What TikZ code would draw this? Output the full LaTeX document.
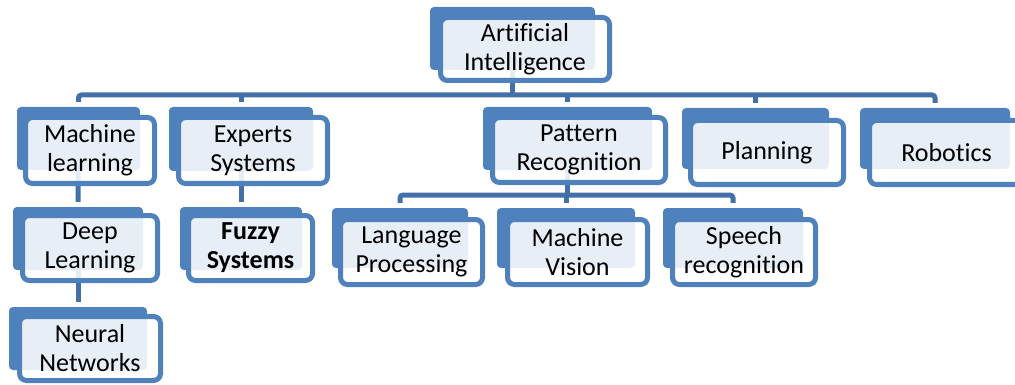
\documentclass[tikz,border=0pt]{standalone}
\usepackage{fontspec}
\setmainfont{Carlito}[Ligatures=NoCommon]
\usetikzlibrary{fit,backgrounds}

\definecolor{boxblue}{RGB}{79,129,189}
\definecolor{linkblue}{RGB}{68,112,170}

\tikzset{
  backbox/.style={fill=boxblue, rounded corners=4pt, inner sep=0pt},
  frontbox/.style={draw=boxblue, line width=5pt, fill=white, fill opacity=0.87,
    text opacity=1, rounded corners=7pt, inner sep=0pt, align=center,
    font=\fontsize{26}{29}\selectfont},
  conn/.style={draw=linkblue, line width=5pt, rounded corners=3pt}
}

\begin{document}
\begin{tikzpicture}[x=1pt, y=-1pt]
                \clip (0,0) rectangle (1015,385);

                % top
                \node[backbox, fit={(430,7) (595,70)}] (ai-b) {};
                \node[frontbox, minimum width=169, minimum height=63] (ai) at (525,49) {Artificial\\Intelligence};

                % first row
                \node[backbox, fit={(17,107) (140,170)}] (ml-b) {};
                \node[frontbox, minimum width=129, minimum height=66] (ml) at (90,150.5) {Machine\\learning};
                \node[backbox, fit={(169,107) (313,171)}] (es-b) {};
                \node[frontbox, minimum width=149, minimum height=66] (es) at (253,150.5) {Experts\\Systems};
                \node[backbox, fit={(483,107) (652,170)}] (pr-b) {};
                \node[frontbox, minimum width=173, minimum height=65] (pr) at (579,150) {Pattern\\Recognition};
                \node[backbox, fit={(682,108) (829,169)}] (pl-b) {};
                \node[frontbox, minimum width=153, minimum height=64] (pl) at (767,152.5) {Planning};
                \node[backbox, fit={(860,108) (1010,169)}] (rb-b) {};
                \node[frontbox, minimum width=154, minimum height=64] (rb) at (946.5,152.5) {Robotics};

                % second row
                \node[backbox, fit={(13,207) (143,270)}] (dl-b) {};
                \node[frontbox, minimum width=135, minimum height=65] (dl) at (90,248) {Deep\\Learning};
                \node[backbox, fit={(180,207) (302,270)}] (fz-b) {};
                \node[frontbox, minimum width=124, minimum height=65] (fz) at (250.5,248) {\bfseries Fuzzy\\\bfseries Systems};
                \node[backbox, fit={(332,208) (468,268)}] (lp-b) {};
                \node[frontbox, minimum width=142, minimum height=65] (lp) at (411.5,252) {Language\\Processing};
                \node[backbox, fit={(497,208) (635,268)}] (mv-b) {};
                \node[frontbox, minimum width=140, minimum height=65] (mv) at (577.5,252) {Machine\\Vision};
                \node[backbox, fit={(663,208) (803,268)}] (sr-b) {};
                \node[frontbox, minimum width=143, minimum height=65] (sr) at (744,252) {Speech\\recognition};

                % third row
                \node[backbox, fit={(9,307) (147,370)}] (nn-b) {};
                \node[frontbox, minimum width=141, minimum height=64] (nn) at (90,348.5) {Neural\\Networks};

                \coordinate (bar1) at (0,95);
                \coordinate (bar2) at (0,195);

                \begin{scope}[on background layer]
                \fill[white] (0,0) rectangle (1015,385);

                \draw[conn] (ai-b.center) -- (ai-b.center |- bar1);
                \draw[conn] ([yshift=5pt]ml-b.north) |- (bar1 -| rb-b.north) -- ([yshift=5pt]rb-b.north);
                \foreach \n in {es,pr,pl}
                    \draw[conn] ([yshift=5pt]\n-b.north) -- (\n-b.north |- bar1);

                \draw[conn] (ml-b.center) -- ([yshift=5pt]dl-b.north);
                \draw[conn] (dl-b.center) -- ([yshift=5pt]nn-b.north);
                \draw[conn] (es-b.center) -- ([yshift=5pt]fz-b.north);

                \draw[conn] (pr-b.center) -- (pr-b.center |- bar2);
                \draw[conn] ([yshift=5pt]lp-b.north) |- (bar2 -| sr-b.north) -- ([yshift=5pt]sr-b.north);
                \draw[conn] ([yshift=5pt]mv-b.north) -- (mv-b.north |- bar2);
                \end{scope}
            \end{tikzpicture}
\end{document}
